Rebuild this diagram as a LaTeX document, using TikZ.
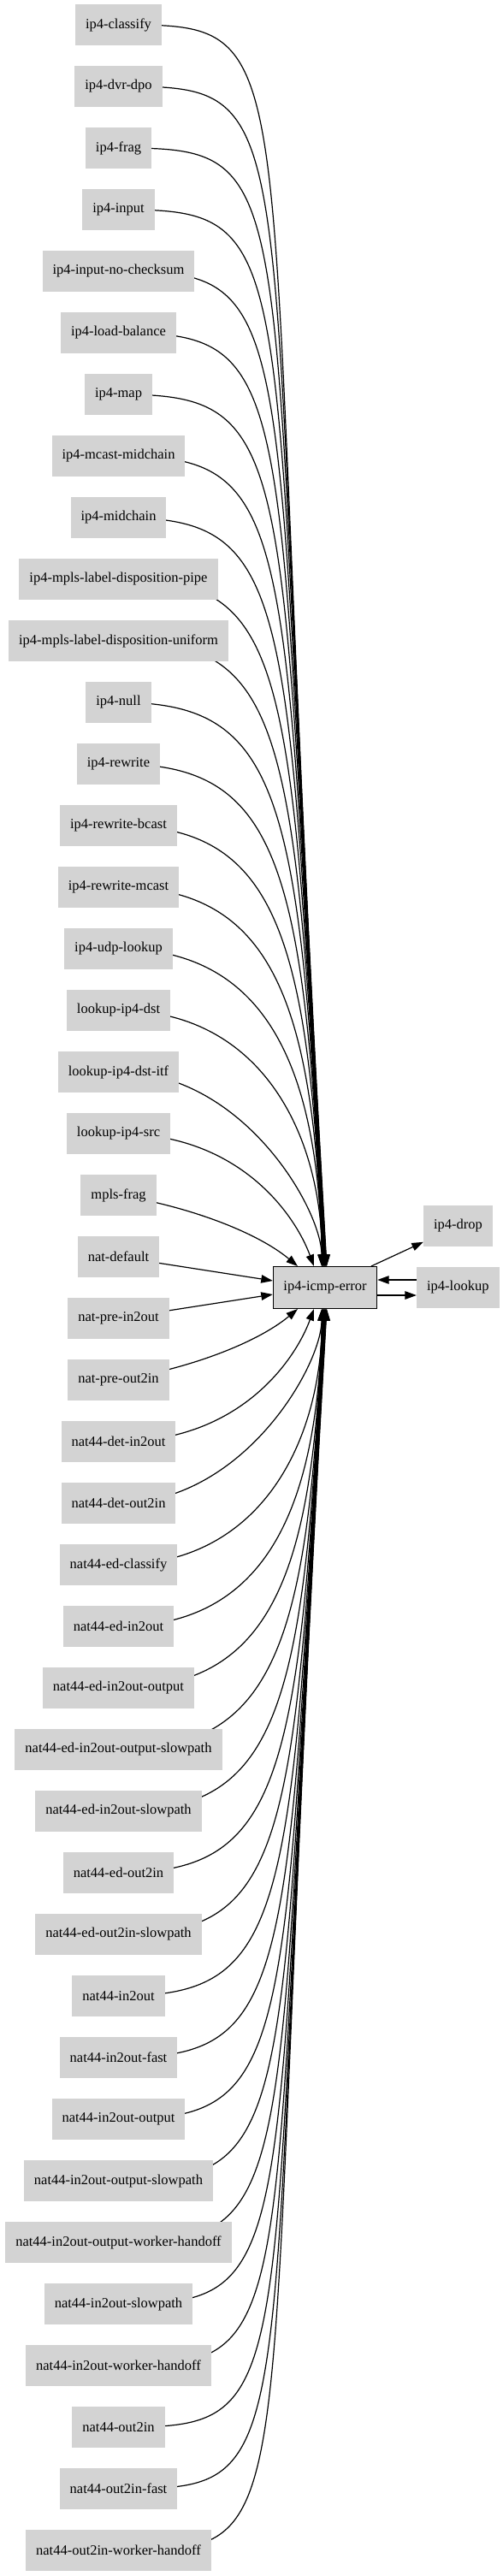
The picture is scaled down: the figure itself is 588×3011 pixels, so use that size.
\documentclass[tikz,border=0pt]{standalone}
\usepackage{fontspec}
\setmainfont{Liberation Serif}
\usetikzlibrary{arrows.meta}
\pgfdeclarelayer{bg}
\pgfsetlayers{bg,main}
\definecolor{lg}{HTML}{D3D3D3}
\begin{document}
\begin{tikzpicture}[x=1pt,y=-1pt,
  src/.style={fill=lg, minimum height=48.7pt, inner xsep=12pt, inner ysep=0pt,
    font=\fontsize{16.5pt}{19pt}\selectfont},
  hub/.style={src, draw=black, line width=1.3pt, minimum width=120pt},
  conn/.style={line width=1.2pt, -{Triangle[length=13.5pt,width=9.5pt]}}]
\useasboundingbox (0,0) rectangle (588,3011);
% left column
\foreach \lab [count=\k from 0] in {ip4-classify,ip4-dvr-dpo,ip4-frag,ip4-input,
  ip4-input-no-checksum,ip4-load-balance,ip4-map,ip4-mcast-midchain,ip4-midchain,
  ip4-mpls-label-disposition-pipe,ip4-mpls-label-disposition-uniform,ip4-null,
  ip4-rewrite,ip4-rewrite-bcast,ip4-rewrite-mcast,ip4-udp-lookup,lookup-ip4-dst,
  lookup-ip4-dst-itf,lookup-ip4-src,mpls-frag,nat-default,nat-pre-in2out,
  nat-pre-out2in,nat44-det-in2out,nat44-det-out2in,nat44-ed-classify,nat44-ed-in2out,
  nat44-ed-in2out-output,nat44-ed-in2out-output-slowpath,nat44-ed-in2out-slowpath,
  nat44-ed-out2in,nat44-ed-out2in-slowpath,nat44-in2out,nat44-in2out-fast,
  nat44-in2out-output,nat44-in2out-output-slowpath,nat44-in2out-output-worker-handoff,
  nat44-in2out-slowpath,nat44-in2out-worker-handoff,nat44-out2in,nat44-out2in-fast,
  nat44-out2in-worker-handoff}
  {\node[src] (n\k) at (138.5,29+72*\k) {\lab};}
% centre and right
\node[hub] (err) at (380,1505) {ip4-icmp-error};
\node[src] (drop) at (535.5,1433) {ip4-drop};
\node[src] (lookup) at (535.3,1505) {ip4-lookup};
\begin{pgfonlayer}{bg}
\foreach \i in {0,...,16} {
  \pgfmathsetmacro\f{1-\i/16}
  \pgfmathsetmacro\yy{29+72*\i}
  \pgfmathsetmacro\tx{382-0.35*\i}
  \pgfmathsetmacro\dx{\tx-380}
  \pgfmathsetmacro\ax{138.5+170+61*\f}
  \pgfmathsetmacro\bx{\tx-85.5*\f}
  \pgfmathsetmacro\h{150*(1-\f)}
  \pgfmathtruncatemacro\j{41-\i}
  \draw[conn] (n\i.center) .. controls (\ax,\yy) and (\bx,\yy+\h) .. ([xshift=\dx pt]err.north);
  \draw[conn] (n\j.center) .. controls (\ax,3010-\yy) and (\bx,3010-\yy-\h) .. ([xshift=\dx pt]err.south);
}
\draw[conn] (n17.center) .. controls (283.5,1253) and (376,1413) .. ([xshift=-4pt]err.north);
\draw[conn] (n24.center) .. controls (283.5,1757) and (376,1597) .. ([xshift=-4pt]err.south);
\draw[conn] (n18.center) .. controls (280,1325) and (345,1420) .. ([xshift=-13pt]err.north);
\draw[conn] (n23.center) .. controls (280,1685) and (345,1590) .. ([xshift=-13pt]err.south);
\draw[conn] (n19.center) .. controls (220,1410) and (300,1440) .. ([xshift=-32pt]err.north);
\draw[conn] (n22.center) .. controls (220,1600) and (300,1570) .. ([xshift=-32pt]err.south);
\draw[conn] (n20.center) -- ([yshift=8pt]err.west);
\draw[conn] (n21.center) -- ([yshift=-8pt]err.west);
\end{pgfonlayer}
\draw[conn] (err) -- (drop);
\draw[conn] ([yshift=9pt]lookup.west) -- ([yshift=9pt]err.east);
\draw[conn] ([yshift=-9pt]err.east) -- ([yshift=-9pt]lookup.west);
\end{tikzpicture}
\end{document}
